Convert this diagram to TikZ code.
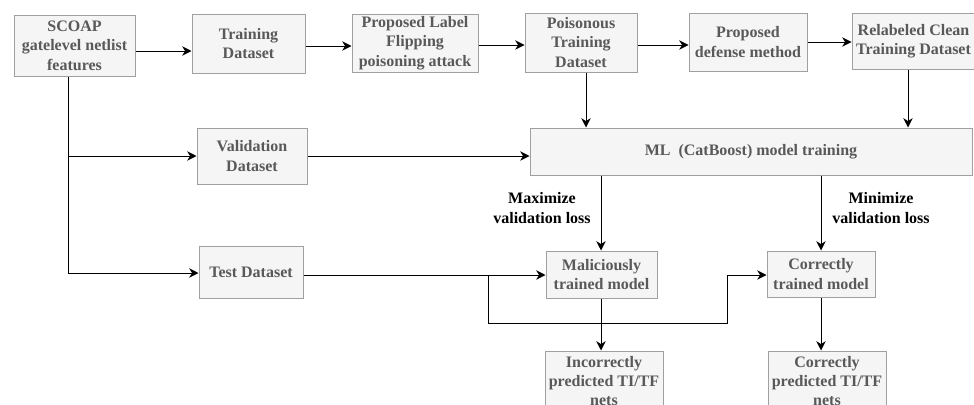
\documentclass[tikz,border=0pt]{standalone}
\usepackage{fontspec}
\setmainfont{Liberation Serif}
\usetikzlibrary{arrows.meta}
\definecolor{boxfill}{HTML}{F5F5F5}
\definecolor{boxline}{HTML}{A0A0A0}
\definecolor{boxtext}{HTML}{595959}
\tikzset{
  box/.style n args={2}{draw=boxline, fill=boxfill, line width=0.75pt, inner sep=0pt,
    minimum width=#1*0.75pt, minimum height=#2*0.75pt, align=center,
    text=boxtext, font=\fontsize{12}{14.6}\selectfont\bfseries},
  lbl/.style={align=center, inner sep=0pt, font=\fontsize{12}{15.6}\selectfont\bfseries},
  arr/.style={draw=black, line width=0.75pt, -{Stealth[length=7pt,width=7pt,inset=2.2pt]}},
  ln/.style={draw=black, line width=0.75pt},
}
\begin{document}
\begin{tikzpicture}[x=0.75pt, y=-0.75pt]
\useasboundingbox (0,0) rectangle (974,404);
\clip (0,0) rectangle (974,404);
% nodes
\node[box={121}{61}] (scoap) at (74.5,45.5) {SCOAP\\gatelevel netlist\\features};
\node[box={113}{59}] (train) at (248.5,43.5) {Training\\Dataset};
\node[box={126}{58}] (flip) at (415,43) {Proposed Label\\Flipping\\poisoning attack};
\node[box={112}{59}] (pois) at (581,42.5) {Poisonous\\Training\\Dataset};
\node[box={118}{58}] (def) at (748,42) {Proposed\\defense method};
\node[box={123}{56}] (relab) at (913.5,41) {Relabeled Clean\\Training Dataset};
\node[box={442}{47}] (ml) at (751,151.5) {ML\ \ (CatBoost) model training};
\node[box={110}{56}] (val) at (252,156) {Validation\\Dataset};
\node[box={104}{52}] (test) at (251,272) {Test Dataset};
\node[box={111}{47}] (mal) at (601.5,274.5) {Maliciously\\trained model};
\node[box={108}{46}] (corr) at (821,274) {Correctly\\trained model};
\node[box={118}{60}] (inc) at (604,381) {Incorrectly\\predicted TI/TF\\nets};
\node[box={118}{60}] (cpred) at (827,381) {Correctly\\predicted TI/TF\\nets};
\node[lbl] (maxl) at (542,208) {Maximize\\validation loss};
\node[lbl] (minl) at (881,208) {Minimize\\validation loss};
% helper coordinates
\coordinate (vtop) at (68,76);
\coordinate (vval) at (68,156);
\coordinate (vtest) at (68,273);
\coordinate (tj) at (488,275);
\coordinate (bl) at (488,323);
\coordinate (br) at (727,323);
\coordinate (rt) at (727,275);
% top row
\draw[arr] (scoap.east |- 0,51) -- (train.west |- 0,51);
\draw[arr] (train.east |- 0,46) -- (flip.west |- 0,46);
\draw[arr] (flip.east |- 0,45) -- (pois.west |- 0,45);
\draw[arr] (pois.east |- 0,45) -- (def.west |- 0,45);
\draw[arr] (def.east |- 0,42) -- (relab.west |- 0,42);
\draw[arr] (pois.south -| 586,0) -- (ml.north -| 586,0);
\draw[arr] (relab.south -| 908,0) -- (ml.north -| 908,0);
% left trunk
\draw[ln] (scoap.south -| vtop) -- (vtest);
\draw[arr] (vval) -- (val.west);
\draw[arr] (vtest) -- (test.west |- vtest);
\draw[arr] (val.east) -- (ml.west |- val.east);
% test to models
\draw[arr] (test.east |- tj) -- (mal.west |- tj);
\draw[ln] (tj) -- (bl) -- (br) -- (rt);
\draw[arr] (rt) -- (corr.west |- rt);
% ML to models
\draw[arr] (ml.south -| 601,0) -- (mal.north -| 601,0);
\draw[arr] (ml.south -| 821,0) -- (corr.north -| 821,0);
% models to predictions
\draw[arr] (mal.south -| 601,0) -- (inc.north -| 601,0);
\draw[arr] (corr.south -| 821,0) -- (cpred.north -| 821,0);
\end{tikzpicture}
\end{document}
